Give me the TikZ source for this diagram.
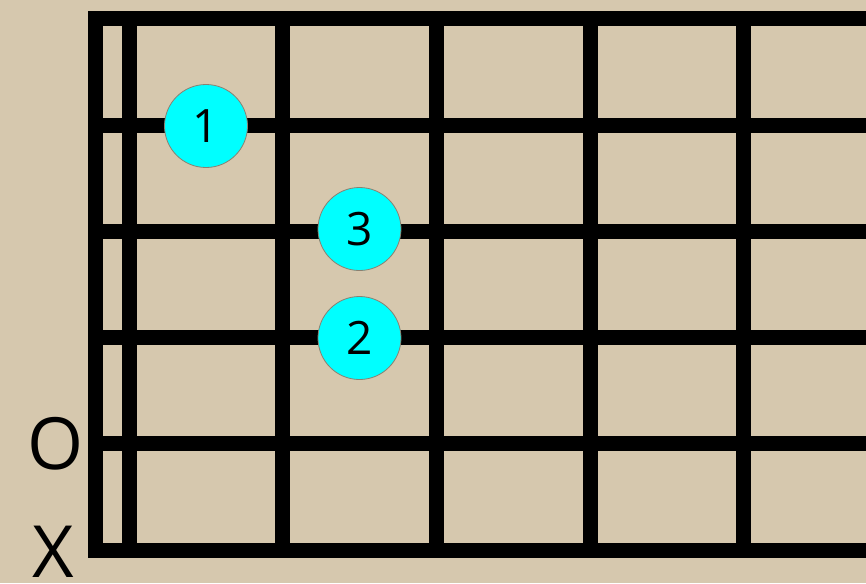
\documentclass[tikz,border=0pt]{standalone}
\usepackage{fontspec}
\setmainfont{Open Sans}
\definecolor{paper}{HTML}{D6C8AE}
\definecolor{fingerfill}{HTML}{00FFFF}
\definecolor{fingerrim}{HTML}{8C8070}
\tikzset{
  fret/.style={line width=15pt, black, line cap=butt},
  frame/.style={line width=15pt, black, line join=miter, line cap=butt},
  finger/.style={circle, fill=fingerfill, draw=fingerrim, line width=0.8pt,
    minimum size=83pt, inner sep=0pt, font=\fontsize{46}{46}\selectfont},
  openmark/.style={font=\fontsize{72}{72}\selectfont, inner sep=0pt}
}
\begin{document}
\begin{tikzpicture}[x=1pt,y=-1pt]
\fill[paper] (0,0) rectangle (866,583);
\useasboundingbox (0,0) rectangle (866,583);
% strings (horizontal)
\foreach \y in {125.2,231.4,337.6,443.8}
  \draw[fret] (95.5,\y) -- (866,\y);
% frets (vertical)
\foreach \x in {129.5,282.5,436,590,743}
  \draw[fret] (\x,19) -- (\x,550);
% outer frame
\draw[frame] (866,19) -- (95.5,19) -- (95.5,550) -- (866,550);
% fingers
\node[finger] (f1) at (206,126) {1};
\node[finger] (f3) at (359.5,229) {3};
\node[finger] (f2) at (359.5,338) {2};
% open / muted marks
\node[openmark] (o) at (56,443.5) {O};
\node[openmark] (x) at (53,551.5) {X};
\end{tikzpicture}
\end{document}
